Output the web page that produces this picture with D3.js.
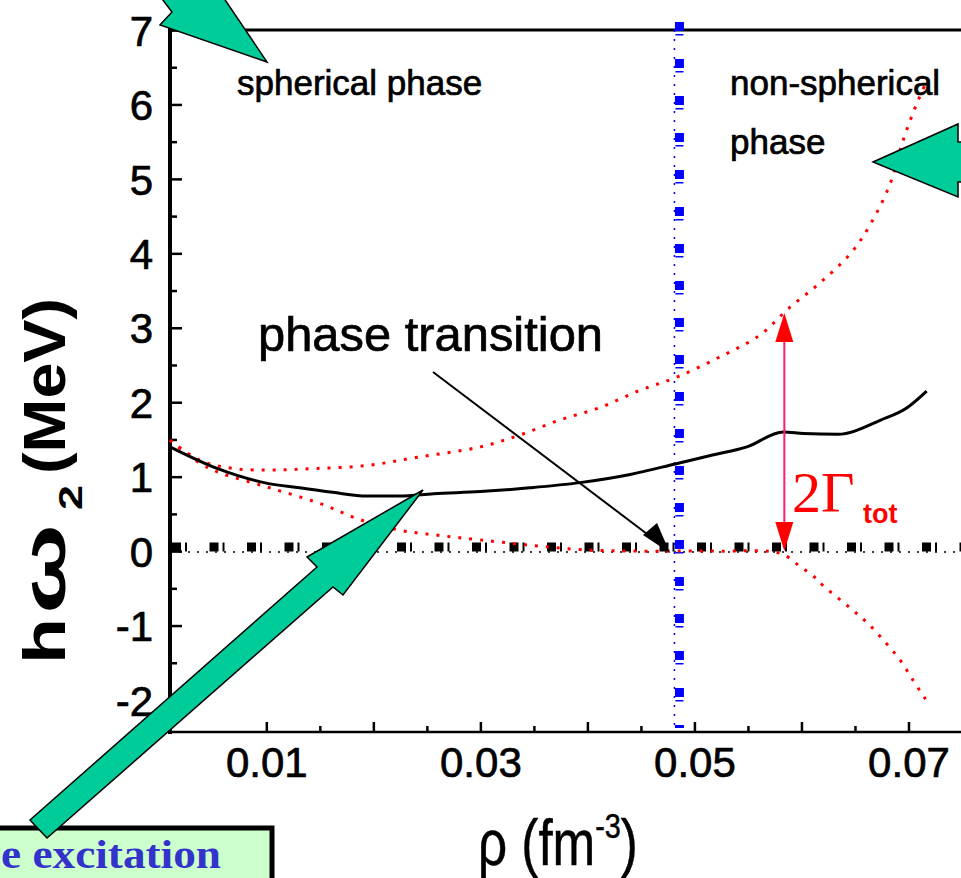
<!DOCTYPE html>
<meta charset="utf-8">
<style>
body { margin: 0; background: #fff; }
svg { display: block; font-family: "Liberation Sans", Arial, sans-serif; }
.axis path { display: none; }
.axis line { stroke: #000; stroke-width: 2.5px; }
.axis text { font-size: 42px; fill: #000; stroke: #000; stroke-width: 0.7px; font-family: "Liberation Sans", Arial, sans-serif; }
.lbl { fill: #000; stroke: #000; stroke-width: 0.7px; }
.frame { stroke: #000; fill: none; }
.omega { fill: none; stroke: #000; stroke-width: 3px; }
.width { fill: none; stroke: #f00; stroke-width: 3px; stroke-dasharray: 3,8; }
.green { fill: #00cc99; stroke: #000; stroke-width: 1.5px; stroke-linejoin: miter; }
</style>
<svg width="961" height="878"></svg>
<script src="https://d3js.org/d3.v7.min.js"></script>
<script>

// --- data
var blackRho   = [0.0010, 0.0054, 0.0101, 0.0131, 0.0162, 0.0194, 0.0225, 0.0256, 0.0300, 0.0346, 0.0393, 0.0440, 0.0482, 0.0517, 0.0549, 0.0583, 0.0602, 0.0634, 0.0674, 0.0699, 0.0717];
var blackOmega = [1.40, 1.11, 0.91, 0.85, 0.79, 0.74, 0.74, 0.77, 0.80, 0.85, 0.92, 1.03, 1.17, 1.29, 1.40, 1.60, 1.58, 1.57, 1.76, 1.93, 2.15];

var upperRho   = [0.0010, 0.0038, 0.0069, 0.0106, 0.0147, 0.0194, 0.0241, 0.0300, 0.0337, 0.0374, 0.0412, 0.0449, 0.0484, 0.0524, 0.0561, 0.0588, 0.0617, 0.0646, 0.0664, 0.0683, 0.0695, 0.0708, 0.0717];
var upperOmega = [1.49, 1.22, 1.11, 1.09, 1.11, 1.15, 1.26, 1.40, 1.56, 1.76, 1.93, 2.16, 2.34, 2.61, 2.90, 3.26, 3.60, 4.00, 4.38, 4.94, 5.52, 6.02, 6.31];

var lowerRho   = [0.0010, 0.0038, 0.0057, 0.0101, 0.0150, 0.0188, 0.0225, 0.0262, 0.0300, 0.0346, 0.0393, 0.0449, 0.0524, 0.0580, 0.0599, 0.0613, 0.0620, 0.0646, 0.0662, 0.0678, 0.0692, 0.0704, 0.0716];
var lowerOmega = [1.49, 1.18, 1.05, 0.86, 0.64, 0.42, 0.28, 0.21, 0.15, 0.08, 0.02, 0.00, 0.00, -0.03, -0.21, -0.36, -0.46, -0.77, -0.97, -1.22, -1.46, -1.73, -1.99];

var transitionRho = 0.0486;   // blue dash-dot line
var zeroLevel = 0;            // black dash-dot line
var gammaRho = 0.0584, gammaTop = 3.2, gammaBottom = 0;

var xTicks = [0.01, 0.02, 0.03, 0.04, 0.05, 0.06, 0.07];
var xTickLabels = ["0.01", "", "0.03", "", "0.05", "", "0.07"];
var xMinor = [0.015, 0.025, 0.035, 0.045, 0.055, 0.065];
var yTicks = [-2, -1, 0, 1, 2, 3, 4, 5, 6, 7];
var yMinor = [-1.5, -0.5, 0.5, 1.5, 2.5, 3.5, 4.5, 5.5, 6.5];

var svg = d3.select("svg");

var x = d3.scaleLinear().domain([0.001, 0.075]).range([170, 962]),
    y = d3.scaleLinear().domain([-2.43, 7]).range([732, 30]);

function pts(xs, ys) { return xs.map(function(v, i) { return [x(v), y(ys[i])]; }); }

// axes
svg.append("g")
    .attr("class", "axis")
    .attr("transform", "translate(0,732)")
    .call(d3.axisBottom(x).tickValues(xTicks).tickSize(-10).tickPadding(15)
      .tickFormat(function(d, i) { return xTickLabels[i]; }));

svg.append("g")
    .attr("class", "axis")
    .attr("transform", "translate(0,732)")
    .call(d3.axisBottom(x).tickValues(xMinor).tickSize(-6).tickFormat(""));

var yg = svg.append("g")
    .attr("class", "axis")
    .attr("transform", "translate(170,0)")
    .call(d3.axisLeft(y).tickValues(yTicks).tickSize(-12).tickPadding(17)
      .tickFormat(function(d) { return String(d); }));
yg.selectAll("text").attr("dy", "0.36em");

svg.append("g")
    .attr("class", "axis")
    .attr("transform", "translate(170,0)")
    .call(d3.axisLeft(y).tickValues(yMinor).tickSize(-7).tickFormat(""));

// frame
svg.append("line").attr("class", "frame").attr("x1", 170).attr("x2", 961).attr("y1", 732).attr("y2", 732).style("stroke-width", 2.5);
svg.append("line").attr("class", "frame").attr("x1", 170).attr("x2", 961).attr("y1", 30).attr("y2", 30).style("stroke-width", 3);
svg.append("line").attr("class", "frame").attr("x1", 170).attr("x2", 170).attr("y1", 28).attr("y2", 734).style("stroke-width", 4);

// horizontal dash-dot at zero
var hy = y(zeroLevel);
svg.append("line").attr("x1", 170).attr("x2", 961).attr("y1", hy + 1).attr("y2", hy + 1)
    .style("stroke", "#000").style("stroke-width", 1.5).style("stroke-dasharray", "2,7");
svg.append("line").attr("x1", 172).attr("x2", 961).attr("y1", hy - 4).attr("y2", hy - 4)
    .style("stroke", "#000").style("stroke-width", 9).style("stroke-dasharray", "9,28.5");
svg.append("line").attr("x1", 185).attr("x2", 961).attr("y1", hy - 4).attr("y2", hy - 4)
    .style("stroke", "#000").style("stroke-width", 9).style("stroke-dasharray", "2,35.5");

// blue dash-dot vertical
var bx = x(transitionRho);
svg.append("line").attr("x1", bx - 5).attr("x2", bx - 5).attr("y1", 30).attr("y2", 728)
    .style("stroke", "#0000ff").style("stroke-width", 1.5).style("stroke-dasharray", "2,7");
svg.append("line").attr("x1", bx).attr("x2", bx).attr("y1", 22).attr("y2", 728)
    .style("stroke", "#0000ff").style("stroke-width", 9).style("stroke-dasharray", "9,28");
svg.append("line").attr("x1", bx).attr("x2", bx).attr("y1", 34).attr("y2", 728)
    .style("stroke", "#0000ff").style("stroke-width", 8).style("stroke-dasharray", "1.5,35.5");

// curves
svg.append("path").attr("class", "width")
    .attr("d", d3.line().curve(d3.curveCatmullRom)(pts(upperRho, upperOmega)));
svg.append("path").attr("class", "width")
    .attr("d", d3.line().curve(d3.curveCatmullRom)(pts(lowerRho, lowerOmega)));
svg.append("path").attr("class", "omega")
    .attr("d", d3.line().curve(d3.curveMonotoneX)(pts(blackRho, blackOmega)));

// 2 Gamma arrow
var gx = x(gammaRho), gt = y(gammaTop), gb = y(gammaBottom);
svg.append("line").attr("x1", gx).attr("x2", gx).attr("y1", gt + 20).attr("y2", gb - 20)
    .style("stroke", "#ff1a75").style("stroke-width", 2);
svg.append("path").attr("d", "M" + gx + "," + gt + "L" + (gx + 9) + "," + (gt + 29) + "L" + (gx - 9) + "," + (gt + 29) + "Z").style("fill", "#f00");
svg.append("path").attr("d", "M" + gx + "," + gb + "L" + (gx + 9) + "," + (gb - 29) + "L" + (gx - 9) + "," + (gb - 29) + "Z").style("fill", "#f00");

svg.append("text").attr("x", 792).attr("y", 512).style("fill", "#f00")
    .style("font-family", "'Liberation Serif', 'Times New Roman', serif").style("font-size", "58px")
    .text("2Γ");
svg.append("text").attr("x", 863).attr("y", 523).style("fill", "#f00")
    .style("font-size", "27px").style("font-weight", "bold").text("tot");

// phase transition pointer
svg.append("line").attr("x1", 433).attr("y1", 372).attr("x2", 655).attr("y2", 540)
    .style("stroke", "#000").style("stroke-width", 2);
svg.append("path").attr("d", "M670,553L643,535L657,523Z").style("fill", "#000");

// labels
svg.append("text").attr("class", "lbl").attr("x", 237).attr("y", 95).style("font-size", "35px").text("spherical phase");
svg.append("text").attr("class", "lbl").attr("x", 730).attr("y", 95).style("font-size", "35px").text("non-spherical");
svg.append("text").attr("class", "lbl").attr("x", 730).attr("y", 154).style("font-size", "35px").text("phase");
svg.append("text").attr("class", "lbl").attr("x", 258).attr("y", 351).style("font-size", "48px")
    .attr("textLength", 345).attr("lengthAdjust", "spacingAndGlyphs").text("phase transition");

// y title, built from pieces along the rotated baseline
function yPiece(pos, txt, size, len, shift, weight) {
  svg.append("text").attr("transform", "translate(" + (65 + (shift || 0)) + "," + pos + ") rotate(-90)")
      .style("font-size", size + "px").style("font-weight", weight || "bold")
      .attr("textLength", len).attr("lengthAdjust", "spacingAndGlyphs").text(txt);
}
yPiece(664, "h", 60, 46);
yPiece(614, "ω", 62, 90);
yPiece(510, "2", 34, 25, 17);
yPiece(474, "(MeV)", 60, 176);

// x title
var xt = svg.append("text").attr("transform", "translate(478,865) scale(0.8,1)")
    .attr("class", "lbl").style("font-size", "64px").style("stroke-width", "0.5px");
xt.append("tspan").text("ρ (fm");
xt.append("tspan").attr("dy", -27).style("font-size", "36px").text("-3");
xt.append("tspan").attr("dy", 27).text(")");

// box at the bottom left
svg.append("rect").attr("x", -10).attr("y", 828).attr("width", 282).attr("height", 80)
    .style("fill", "#ccffcc").style("stroke", "#000").style("stroke-width", 5);
svg.append("text").attr("x", 1).attr("y", 868)
    .style("font-family", "'Liberation Serif', 'Times New Roman', serif")
    .style("font-weight", "bold").style("font-size", "40px").style("fill", "#3333cc")
    .attr("textLength", 220).attr("lengthAdjust", "spacingAndGlyphs")
    .text("e excitation");

// green block arrows
var arrow = d3.line();
svg.append("path").attr("class", "green")
    .attr("d", arrow([[267, 62], [160, 25], [172, 12], [140, -30], [190, -60], [213, -18]]) + "Z");
svg.append("path").attr("class", "green")
    .attr("d", arrow([[873, 162], [958, 124], [958, 142], [1010, 142], [1010, 182], [958, 182], [958, 197]]) + "Z");
svg.append("path").attr("class", "green")
    .attr("d", arrow([[423, 490], [343, 595], [333, 587], [47, 838], [30, 820], [317, 567], [307, 557]]) + "Z");

</script>
